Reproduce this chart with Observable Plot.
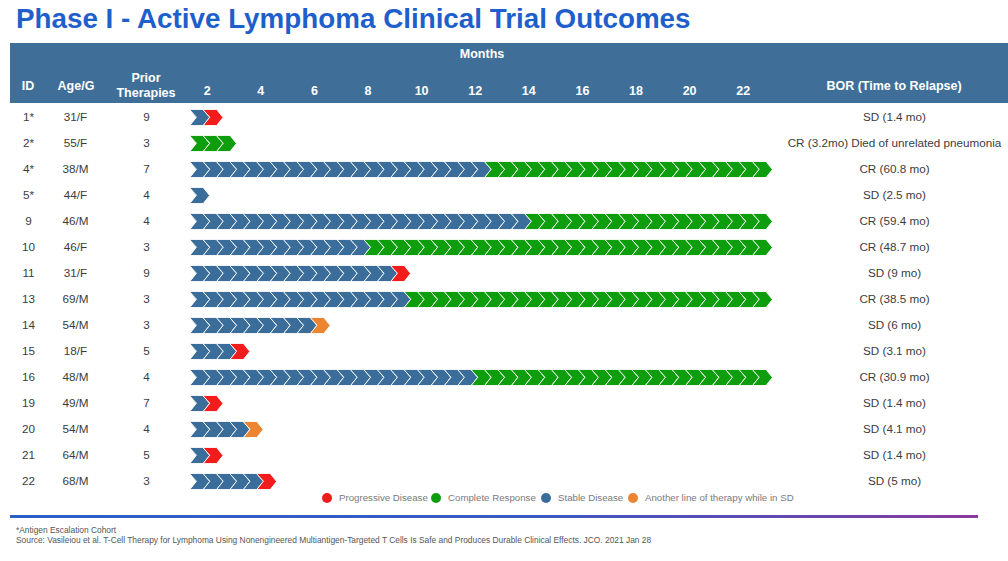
<!DOCTYPE html>
<html><head><meta charset="utf-8">
<script src="https://cdn.jsdelivr.net/npm/d3@7"></script>
<script src="https://cdn.jsdelivr.net/npm/@observablehq/plot@0.6"></script>
<style>
html,body{margin:0;padding:0;background:#fff;}
#wrap{position:relative;width:1008px;height:561px;overflow:hidden;font-family:"Liberation Sans",Arial,sans-serif;}
.abs{position:absolute;white-space:nowrap;line-height:1;}
#band{left:10px;top:43px;width:998px;height:60px;background:#3f6f98;z-index:0;}
#chart{position:absolute;left:0;top:0;z-index:1;}
.hd{color:#fff;font-weight:bold;font-size:12.5px;z-index:2;transform:translate(-50%,-50%);}
#title{left:16px;top:5px;font-size:27.8px;font-weight:bold;color:#1f5fcb;line-height:28px;z-index:2;}
.lg-dot{width:10px;height:10px;border-radius:50%;transform:translate(-50%,-50%);z-index:2;}
.lg-txt{font-size:9.7px;color:#7a7a7a;transform:translateY(-50%);z-index:2;}
#rule{left:10px;top:515px;width:968px;height:3px;background:linear-gradient(90deg,#2a5fc8 0%,#3a58c2 55%,#6a45ae 85%,#8b3a9c 100%);z-index:2;}
.fn{left:16px;font-size:8.4px;color:#555;z-index:2;}
</style></head>
<body><div id="wrap">
<div id="band" class="abs"></div>
<div id="title" class="abs">Phase I - Active Lymphoma Clinical Trial Outcomes</div>
<div class="abs hd" style="left:482px;top:54px">Months</div>
<div class="abs hd" style="left:28px;top:86px">ID</div>
<div class="abs hd" style="left:76px;top:86px">Age/G</div>
<div class="abs hd" style="left:146px;top:78px">Prior</div>
<div class="abs hd" style="left:146px;top:93px">Therapies</div>
<div class="abs hd" style="left:894px;top:86px">BOR (Time to Relapse)</div>
<div id="rule" class="abs"></div>
<div class="abs fn" style="top:526px">*Antigen Escalation Cohort</div>
<div class="abs fn" style="top:536px">Source: Vasileiou et al. T-Cell Therapy for Lymphoma Using Nonengineered Multiantigen-Targeted T Cells Is Safe and Produces Durable Clinical Effects. JCO. 2021 Jan 28</div>
<div id="chart"></div>
</div>
<script>
// ---- data ----
const ids = ["1*","2*","4*","5*","9","10","11","13","14","15","16","19","20","21","22"];
const ageSex = ["31/F","55/F","38/M","44/F","46/M","46/F","31/F","69/M","54/M","18/F","48/M","49/M","54/M","64/M","68/M"];
const priorTherapies = [9,3,7,4,4,3,9,3,3,5,4,7,4,5,3];
const bor = ["SD (1.4 mo)","CR (3.2mo) Died of unrelated pneumonia","CR (60.8 mo)","SD (2.5 mo)","CR (59.4 mo)","CR (48.7 mo)","SD (9 mo)","CR (38.5 mo)","SD (6 mo)","SD (3.1 mo)","CR (30.9 mo)","SD (1.4 mo)","SD (4.1 mo)","SD (1.4 mo)","SD (5 mo)"];
// number of chevrons (half-month steps) in stable disease, then in the outcome state
const stableCount = [1,0,22,1,25,13,15,16,9,3,21,1,4,1,5];
const outcomeStatus = ["Progressive Disease","Complete Response","Complete Response",null,"Complete Response","Complete Response","Progressive Disease","Complete Response","Another line of therapy while in SD","Progressive Disease","Complete Response","Progressive Disease","Another line of therapy while in SD","Progressive Disease","Progressive Disease"];
const outcomeCount = [1,3,21,0,18,30,1,27,1,1,22,1,1,1,1];
const statuses = ["Progressive Disease","Complete Response","Stable Disease","Another line of therapy while in SD"];
const statusColors = ["#f21c1c","#0d9d0d","#3a6d9a","#ec8532"];
const monthTicks = [2,4,6,8,10,12,14,16,18,20,22];

// ---- build marks data ----
const startMonth = 1.35, step = 0.5, tip = 0.24, hh = 0.31;
const rows = ids.map((id, i) => ({row: i, id, age: ageSex[i], prior: String(priorTherapies[i]), bor: bor[i]}));
const chevrons = [];
ids.forEach((id, r) => {
  const segs = [["Stable Disease", stableCount[r]]];
  if (outcomeStatus[r]) segs.push([outcomeStatus[r], outcomeCount[r]]);
  let k = 0;
  for (const [status, n] of segs) {
    for (let j = 0; j < n; j++, k++) {
      const x0 = startMonth + k * step, x1 = x0 + step, key = id + "-" + k;
      [[x0, r - hh], [x1, r - hh], [x1 + tip, r], [x1, r + hh], [x0, r + hh], [x0 + tip, r]]
        .forEach(([x, y]) => chevrons.push({key, status, x, y}));
    }
  }
});

const txt = {fontSize: 11.7, fill: "#3c3c3c", textAnchor: "middle"};
const plot = Plot.plot({
  width: 1008, height: 561, margin: 0,
  style: {background: "transparent", fontFamily: "Liberation Sans, Arial, sans-serif", overflow: "visible"},
  x: {domain: [0, 24], range: [153.1, 796.3], axis: null},
  y: {domain: [0, 14], range: [117, 481], axis: null},
  color: {type: "ordinal", domain: statuses, range: statusColors},
  marks: [
    Plot.line(chevrons, {x: "x", y: "y", z: "key", fill: "status", stroke: "white", strokeWidth: 0.9, strokeLinejoin: "miter", curve: "linear-closed"}),
    Plot.text(monthTicks, {x: d => d, frameAnchor: "top", dy: 86, text: d => String(d), fill: "white", fontWeight: "bold", fontSize: 12.5}),
    Plot.text(rows, {y: "row", frameAnchor: "left", dx: 28, text: "id", ...txt}),
    Plot.text(rows, {y: "row", frameAnchor: "left", dx: 75, text: "age", ...txt}),
    Plot.text(rows, {y: "row", frameAnchor: "left", dx: 146, text: "prior", ...txt}),
    Plot.text(rows, {y: "row", frameAnchor: "left", dx: 894, text: "bor", ...txt})
  ]
});
document.getElementById("chart").appendChild(plot);

// legend
const wrap = document.getElementById("wrap");
const dotX = [327, 436, 546, 633], txtX = [339, 448, 558, 645];
statuses.forEach((s, i) => {
  const d = document.createElement("div");
  d.className = "abs lg-dot"; d.style.left = dotX[i] + "px"; d.style.top = "498px"; d.style.background = statusColors[i];
  wrap.appendChild(d);
  const t = document.createElement("div");
  t.className = "abs lg-txt"; t.style.left = txtX[i] + "px"; t.style.top = "498px"; t.textContent = s;
  wrap.appendChild(t);
});
</script>
</body></html>
